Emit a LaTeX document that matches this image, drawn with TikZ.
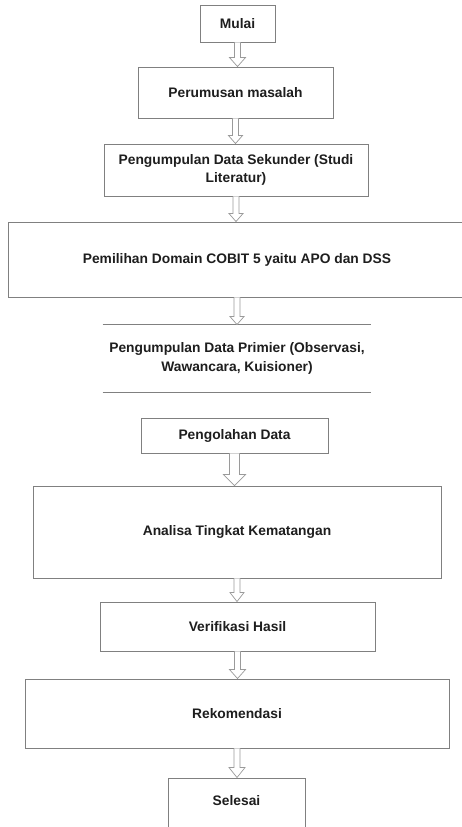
\documentclass[tikz,border=0pt]{standalone}
\usepackage{fontspec}
\setmainfont{Liberation Sans}
\usetikzlibrary{calc}
\definecolor{boxgray}{HTML}{808080}
\definecolor{arrgray}{HTML}{9A9A9A}
\definecolor{txt}{HTML}{1E1E1E}
\tikzset{
  stepbox/.style={draw=boxgray, line width=0.9pt, fill=white, inner sep=2pt,
    font=\fontsize{13.8}{18.3}\selectfont\bfseries, text=txt, align=center},
  arrowline/.style={draw=arrgray, line width=0.7pt, fill=white},
}
\newcommand\blockarr[5]{%
  \draw[arrowline] let \p1=(#1.south), \p2=(#2.north) in
    (\x1-#3,\y1) -- (\x1-#3,\y2+#5) -- (\x1-#4,\y2+#5) -- (\x1,\y2)
    -- (\x1+#4,\y2+#5) -- (\x1+#3,\y2+#5) -- (\x1+#3,\y1);}
\begin{document}
\begin{tikzpicture}[x=1pt,y=-1pt]
\useasboundingbox[fill=white] (0,0) rectangle (461,827);
\node[stepbox, minimum width=75pt, minimum height=37pt] (mulai) at (237.5,23.5) {Mulai};
\node[stepbox, minimum width=195pt, minimum height=51pt] (perumusan) at (235.5,92.5) {Perumusan masalah};
\node[stepbox, minimum width=264pt, minimum height=52pt] (sekunder) at (236,170) {Pengumpulan Data Sekunder (Studi\\Literatur)};
\node[stepbox, minimum width=458pt, minimum height=75pt] (pemilihan) at (237,259.5) {Pemilihan Domain COBIT 5 yaitu APO dan DSS};
\node[stepbox, draw=none, minimum width=268pt, minimum height=67pt] (primier) at (237,358.5) {Pengumpulan Data Primier (Observasi,\\Wawancara, Kuisioner)};
\draw[boxgray, line width=0.9pt] (primier.north west) -- (primier.north east);
\draw[boxgray, line width=0.9pt] (primier.south west) -- (primier.south east);
\node[stepbox, minimum width=187pt, minimum height=35pt] (pengolahan) at (234.5,435.5) {Pengolahan Data};
\node[stepbox, minimum width=408pt, minimum height=92pt] (analisa) at (237,532) {Analisa Tingkat Kematangan};
\node[stepbox, minimum width=275pt, minimum height=49pt] (verifikasi) at (237.5,626.5) {Verifikasi Hasil};
\node[stepbox, minimum width=424pt, minimum height=69pt] (rekomendasi) at (237,713.5) {Rekomendasi};
\node[stepbox, minimum width=137pt, minimum height=56pt] (selesai) at (236.5,806) {};
\node[font=\fontsize{13.8}{18.3}\selectfont\bfseries, text=txt] (selesaitxt) at (236.5,801) {Selesai};
\blockarr{mulai}{perumusan}{3pt}{8pt}{9pt}
\blockarr{perumusan}{sekunder}{3pt}{7pt}{8pt}
\blockarr{sekunder}{pemilihan}{3pt}{7pt}{8pt}
\blockarr{pemilihan}{primier}{3pt}{7pt}{8pt}
\blockarr{pengolahan}{analisa}{5pt}{11pt}{11pt}
\blockarr{analisa}{verifikasi}{3pt}{7pt}{9pt}
\blockarr{verifikasi}{rekomendasi}{3pt}{8pt}{9pt}
\blockarr{rekomendasi}{selesai}{3pt}{8pt}{10pt}
\end{tikzpicture}
\end{document}
